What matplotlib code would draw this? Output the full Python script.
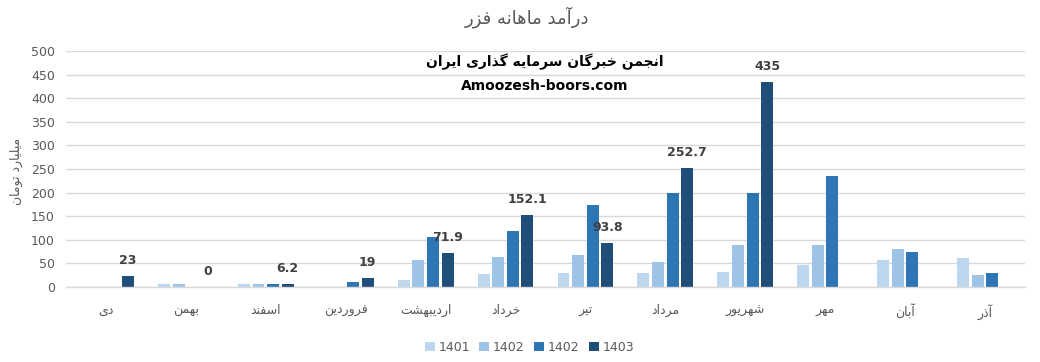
import numpy as np
import matplotlib
matplotlib.use("Agg")
import matplotlib.pyplot as plt
from matplotlib.patches import Patch

# ---------------- data ----------------
months = ["دی", "بهمن", "اسفند", "فروردین", "اردیبهشت", "خرداد",
          "تیر", "مرداد", "شهریور", "مهر", "آبان", "آذر"]
series_names = ["1401", "1402", "1402", "1403"]
s1401 = [np.nan, 6, 6, np.nan, 15, 28, 30, 30, 32, 47, 57, 62]
s1402a = [np.nan, 6, 6, np.nan, 57, 64, 68, 53, 89, 89, 81, 26]
s1402b = [np.nan, np.nan, 6, 11, 106, 119, 174, 200, 200, 235, 74, 30]
s1403 = [23, 0, 6.2, 19, 71.9, 152.1, 93.8, 252.7, 435, np.nan, np.nan, np.nan]
labels_1403 = ["23", "0", "6.2", "19", "71.9", "152.1", "93.8", "252.7", "435", "", "", ""]
yticks = list(range(0, 501, 50))
title = "درآمد ماهانه فزر"
ylabel = "میلیارد تومان"
watermark1 = "انجمن خبرگان سرمایه گذاری ایران"
watermark2 = "Amoozesh-boors.com"

colors = ["#BDD7EE", "#9DC3E6", "#2E75B6", "#1F4E79"]

# ---------------- minimal Arabic/Persian shaping ----------------
FORMS = {
    'ا': ('\uFE8D', '\uFE8E', None, None),
    'آ': ('\uFE81', '\uFE82', None, None),
    'ب': ('\uFE8F', '\uFE90', '\uFE91', '\uFE92'),
    'ت': ('\uFE95', '\uFE96', '\uFE97', '\uFE98'),
    'ج': ('\uFE9D', '\uFE9E', '\uFE9F', '\uFEA0'),
    'خ': ('\uFEA5', '\uFEA6', '\uFEA7', '\uFEA8'),
    'د': ('\uFEA9', '\uFEAA', None, None),
    'ذ': ('\uFEAB', '\uFEAC', None, None),
    'ر': ('\uFEAD', '\uFEAE', None, None),
    'ز': ('\uFEAF', '\uFEB0', None, None),
    'س': ('\uFEB1', '\uFEB2', '\uFEB3', '\uFEB4'),
    'ش': ('\uFEB5', '\uFEB6', '\uFEB7', '\uFEB8'),
    'ف': ('\uFED1', '\uFED2', '\uFED3', '\uFED4'),
    'ل': ('\uFEDD', '\uFEDE', '\uFEDF', '\uFEE0'),
    'م': ('\uFEE1', '\uFEE2', '\uFEE3', '\uFEE4'),
    'ن': ('\uFEE5', '\uFEE6', '\uFEE7', '\uFEE8'),
    'ه': ('\uFEE9', '\uFEEA', '\uFEEB', '\uFEEC'),
    'و': ('\uFEED', '\uFEEE', None, None),
    'ی': ('\uFBFC', '\uFBFD', '\uFBFE', '\uFBFF'),
    'گ': ('\uFB92', '\uFB93', '\uFB94', '\uFB95'),
}


def shape(text):
    def dual(c):
        return c in FORMS and FORMS[c][2] is not None
    out = []
    for i, c in enumerate(text):
        if c not in FORMS:
            out.append(c)
            continue
        prev = text[i - 1] if i > 0 else ''
        nxt = text[i + 1] if i + 1 < len(text) else ''
        jp = dual(prev)
        jn = dual(c) and (nxt in FORMS)
        iso, fin, ini, med = FORMS[c]
        if jp and jn:
            out.append(med)
        elif jp:
            out.append(fin)
        elif jn:
            out.append(ini)
        else:
            out.append(iso)
    return ''.join(reversed(out))


# ---------------- figure ----------------
plt.rcParams['font.family'] = ['DejaVu Sans']
fig = plt.figure(figsize=(10.4, 3.62), dpi=100)
ax = fig.add_axes([0.0635, 0.207, 0.922, 0.652])

x = np.arange(len(months))
stride = 0.183
width = 0.15
all_series = [s1401, s1402a, s1402b, s1403]
for i, (vals, col) in enumerate(zip(all_series, colors)):
    ax.bar(x + (i - 1.5) * stride, vals, width=width, color=col, zorder=3)

# data labels on 1403 series
for xi, v, lab in zip(x, s1403, labels_1403):
    if lab:
        ax.annotate(lab, (xi + 1.5 * stride, v), xytext=(0, 11),
                    textcoords='offset points', ha='center', va='center',
                    fontsize=9, fontweight='bold', color='#404040', zorder=5)

ax.set_xlim(-0.5, len(months) - 0.5)
ax.set_ylim(0, 500)
ax.set_yticks(yticks)
ax.set_xticks(x)
ax.set_xticklabels([shape(m) for m in months], fontsize=9, color='#595959')
ax.tick_params(axis='both', length=0, labelsize=9, labelcolor='#595959')
ax.tick_params(axis='x', pad=12)
ax.tick_params(axis='y', pad=8)
ax.yaxis.grid(True, color='#D9D9D9', linewidth=1, zorder=0)
for s in ['top', 'right', 'left']:
    ax.spines[s].set_visible(False)
ax.spines['bottom'].set_color('#D9D9D9')
ax.spines['bottom'].set_linewidth(1)
ax.spines['bottom'].set_zorder(4)

ax.set_ylabel(shape(ylabel), fontsize=9, color='#595959')
ax.yaxis.set_label_coords(-0.045, 0.49)

fig.text(0.507, 0.953, shape(title), ha='center', va='center',
         fontsize=13, color='#595959')

fig.text(0.524, 0.829, shape(watermark1), ha='center', va='center',
         fontsize=10, fontweight='bold', color='black')
fig.text(0.524, 0.762, watermark2, ha='center', va='center',
         fontsize=10, fontweight='bold', color='black')

handles = [Patch(facecolor=c, edgecolor='none') for c in colors]
leg = fig.legend(handles, series_names, loc='center', bbox_to_anchor=(0.509, 0.04),
                 ncol=4, frameon=False, fontsize=9, handlelength=0.8,
                 handleheight=0.8, handletextpad=0.3, columnspacing=0.75)
for t in leg.get_texts():
    t.set_color('#595959')

fig.savefig("out.png", dpi=100)
